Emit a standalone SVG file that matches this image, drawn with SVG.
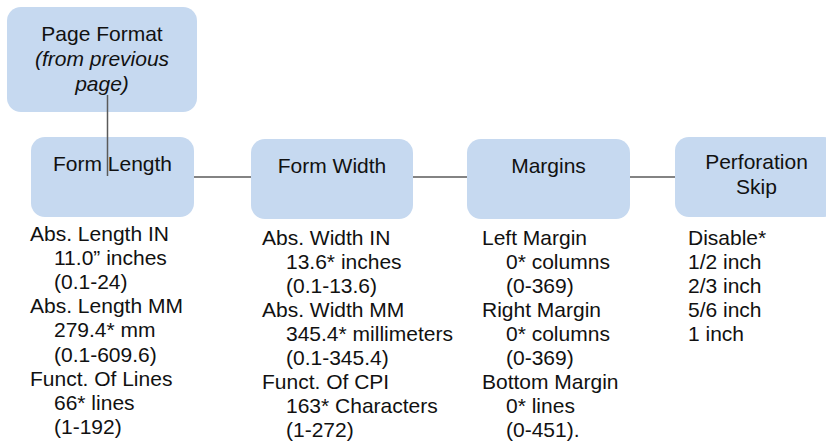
<svg xmlns="http://www.w3.org/2000/svg" width="826" height="447" viewBox="0 0 826 447">
  <style>
    .box { fill: #c6d9f0; stroke: none; }
    .wire { stroke: #5a5a5a; stroke-width: 1.5; fill: none; }
    text { font-family: "Liberation Sans", Arial, sans-serif; font-size: 21px; fill: #111; }
    .c { text-anchor: middle; }
    .i { font-style: italic; }
  </style>
  <rect width="826" height="447" fill="#fff"/>

  <g id="page-format">
    <rect class="box" x="7" y="7" width="190" height="105" rx="14"/>
    <text class="c" x="102" y="41">Page Format</text>
    <text class="c i" x="102" y="66">(from previous</text>
    <text class="c i" x="102" y="91">page)</text>
  </g>

  <g id="form-length">
    <rect class="box" x="31" y="137" width="163" height="80" rx="14"/>
    <text class="c" x="112.5" y="171">Form Length</text>
    <text x="30" y="240.5">Abs. Length IN</text>
    <text x="54" y="264.7">11.0” inches</text>
    <text x="54" y="288.9">(0.1-24)</text>
    <text x="30" y="313.1">Abs. Length MM</text>
    <text x="54" y="337.3">279.4* mm</text>
    <text x="54" y="361.5">(0.1-609.6)</text>
    <text x="30" y="385.7">Funct. Of Lines</text>
    <text x="54" y="409.9">66* lines</text>
    <text x="54" y="434.1">(1-192)</text>
  </g>

  <g id="form-width">
    <rect class="box" x="251" y="139" width="162" height="80" rx="14"/>
    <text class="c" x="332" y="173">Form Width</text>
    <text x="262" y="245">Abs. Width IN</text>
    <text x="286" y="269">13.6* inches</text>
    <text x="286" y="293">(0.1-13.6)</text>
    <text x="262" y="317">Abs. Width MM</text>
    <text x="286" y="341">345.4* millimeters</text>
    <text x="286" y="365">(0.1-345.4)</text>
    <text x="262" y="389">Funct. Of CPI</text>
    <text x="286" y="413">163* Characters</text>
    <text x="286" y="437">(1-272)</text>
  </g>

  <g id="margins">
    <rect class="box" x="467" y="139" width="163" height="80" rx="14"/>
    <text class="c" x="548.5" y="173">Margins</text>
    <text x="482" y="244.5">Left Margin</text>
    <text x="506" y="268.5">0* columns</text>
    <text x="506" y="292.5">(0-369)</text>
    <text x="482" y="316.5">Right Margin</text>
    <text x="506" y="340.5">0* columns</text>
    <text x="506" y="364.5">(0-369)</text>
    <text x="482" y="388.5">Bottom Margin</text>
    <text x="506" y="412.5">0* lines</text>
    <text x="506" y="436.5">(0-451).</text>
  </g>

  <g id="perforation-skip">
    <rect class="box" x="675" y="137" width="163" height="80" rx="14"/>
    <text class="c" x="756.5" y="169">Perforation</text>
    <text class="c" x="756.5" y="194">Skip</text>
    <text x="688" y="244.5">Disable*</text>
    <text x="688" y="268.5">1/2 inch</text>
    <text x="688" y="292.5">2/3 inch</text>
    <text x="688" y="316.5">5/6 inch</text>
    <text x="688" y="340.5">1 inch</text>
  </g>

  <g id="connectors">
    <line class="wire" x1="107.5" y1="95" x2="107.5" y2="176"/>
    <line class="wire" x1="194" y1="177" x2="251" y2="177"/>
    <line class="wire" x1="413" y1="177" x2="467" y2="177"/>
    <line class="wire" x1="630" y1="177" x2="675" y2="177"/>
  </g>
</svg>
